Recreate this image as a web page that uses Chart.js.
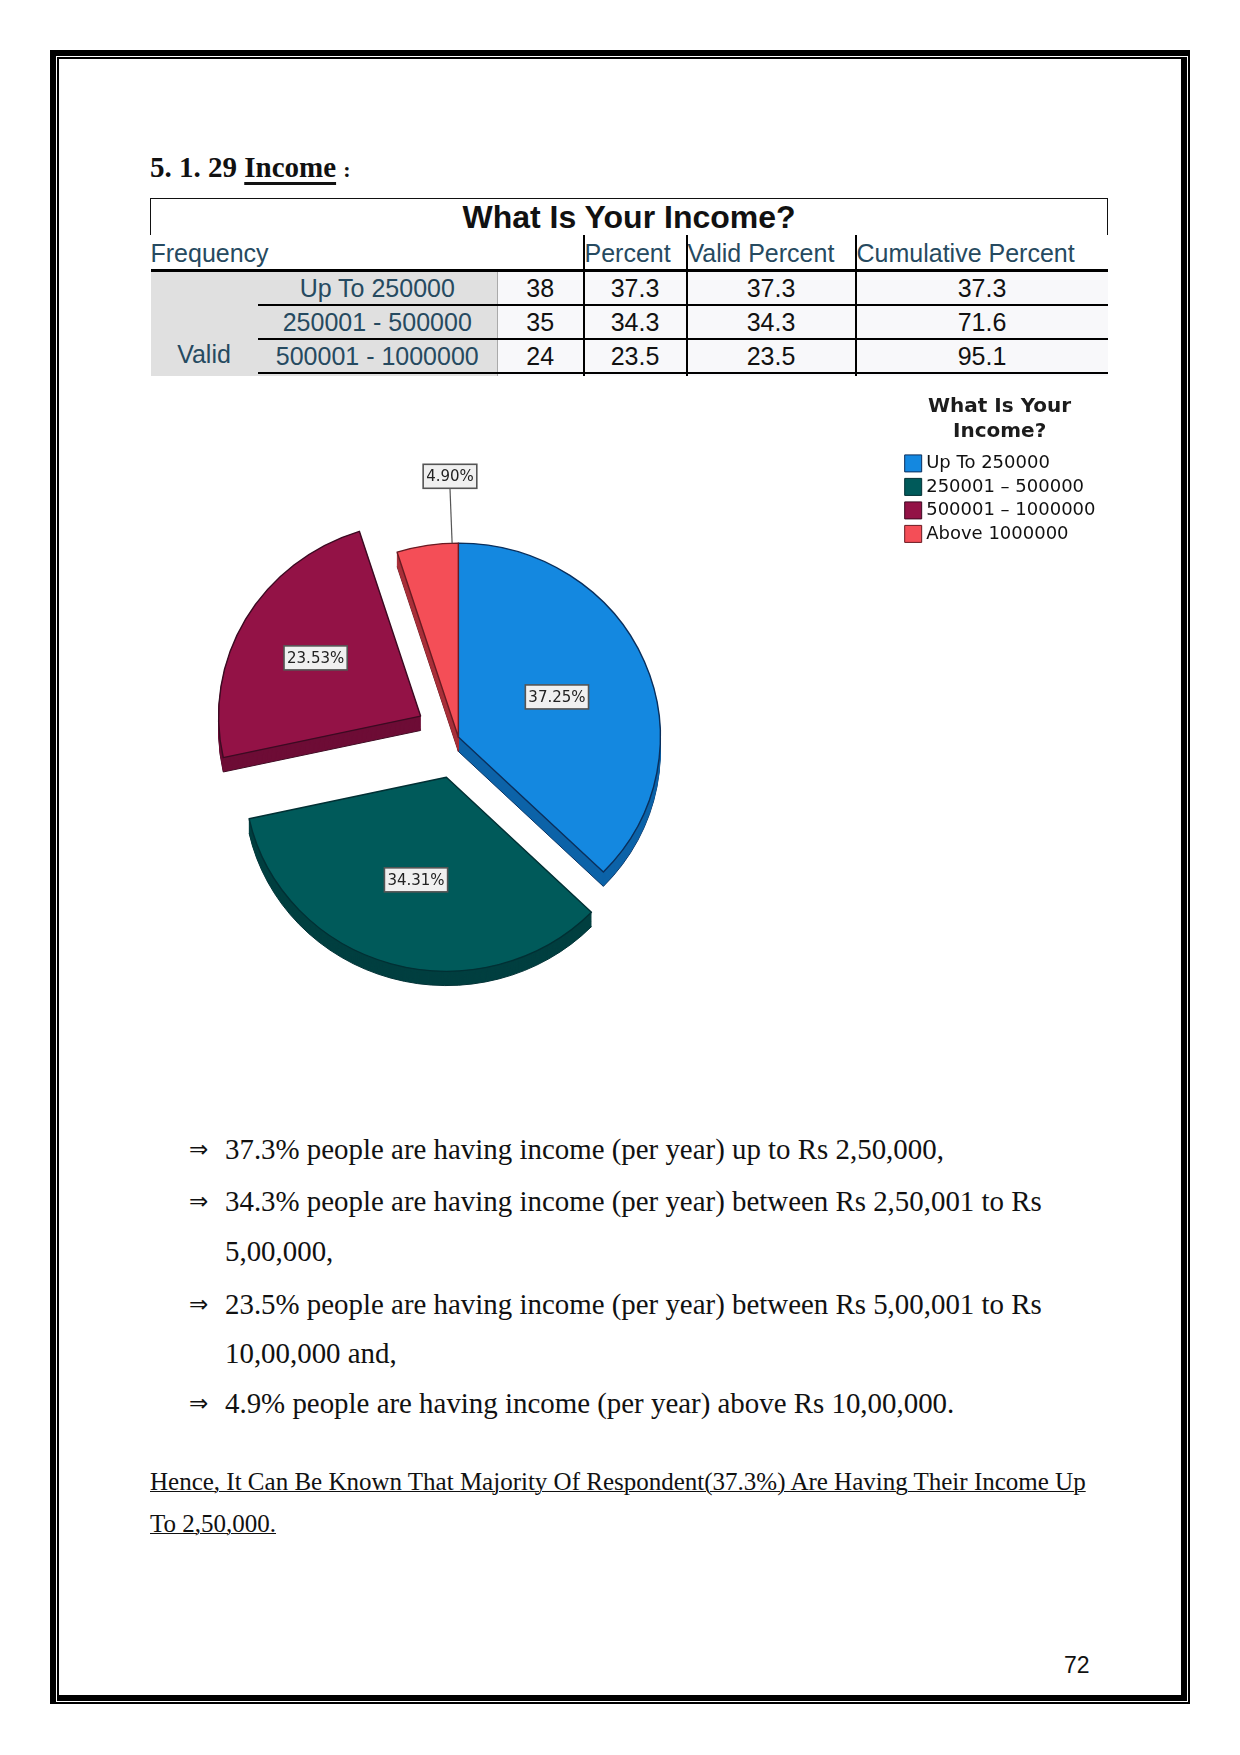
<!DOCTYPE html>
<html>
<head>
<meta charset="utf-8">
<title>Income</title>
<script src="https://cdn.jsdelivr.net/npm/chart.js@4"></script>
<style>
  html, body { margin: 0; padding: 0; background: #fff; }
  #page { position: relative; width: 1240px; height: 1755px; overflow: hidden; font-family: "Liberation Serif", serif; color: #111; }
  .frame { position: absolute; box-sizing: border-box; border-style: solid; border-color: #000; }
  #outer { left: 50px; top: 50px; width: 1140px; height: 1654px; border-width: 6px 2px 2px 6px; }
  #inner { left: 57px; top: 57px; width: 1130px; height: 1644px; border-width: 2px 6px 6px 2px; }
  .abs { position: absolute; white-space: nowrap; }

  #heading { left: 150px; top: 148px; font-size: 29px; font-weight: bold; line-height: 38px; }
  #heading u { text-decoration-thickness: 3px; text-underline-offset: 5px; }
  #heading span { font-size: 22px; }

  #tableBox { position: absolute; left: 150px; top: 198px; width: 959px; height: 178px; overflow: hidden; }
  table { border-collapse: collapse; table-layout: fixed; width: 957px; font-family: "Liberation Sans", sans-serif; font-size: 25px; color: #111; }
  td { padding: 0; text-align: center; overflow: hidden; white-space: nowrap; }
  .title td { height: 36px; line-height: 36px; font-size: 32px; font-weight: bold; border: 1px solid #111; border-bottom: 0; }
  .head td { height: 32px; text-align: left; color: #264a60; border-bottom: 3px solid #000; line-height: 30px; padding-top: 2px; }
  .head td.rule, .row td.rule { border-left: 2px solid #000; }
  .row td { height: 32px; line-height: 30px; background: #f8f8fa; border-bottom: 2px solid #000; }
  .row td.label { background: #e0e0e0; color: #264a60; border-right: 1px solid #aaa; }
  .row td.group { background: #e0e0e0; color: #264a60; border-bottom: 0; vertical-align: bottom; padding-bottom: 10px; }
  .stub td { height: 4px; line-height: 0; font-size: 0; }

  #chartBox { position: absolute; left: 0; top: 380px; }
  .note { font-size: 28.9px; line-height: 36px; }
  .arrow { font-family: "DejaVu Sans", sans-serif; font-size: 23px; line-height: 36px; }
  .end { font-size: 25px; line-height: 36px; text-decoration: underline; text-decoration-thickness: 1px; }
  #pageNo { left: 1064px; top: 1651px; font-family: "Liberation Sans", sans-serif; font-size: 23px; line-height: 28px; }
</style>
</head>
<body>
<div id="page">
  <div class="frame" id="outer"></div>
  <div class="frame" id="inner"></div>

  <div class="abs" id="heading">5. 1. 29 <u>Income</u> <span>:</span></div>

  <div id="tableBox"><table id="freq"></table></div>

  <div id="chartBox"><canvas id="incomeChart" width="1110" height="714"></canvas></div>

  <div id="notes"></div>
  <div class="abs" id="pageNo">72</div>
</div>

<script>
// -------------------------------------
// Data
// -------------------------------------
const tableTitle = "What Is Your Income?";
const tableHeaders = ["Frequency", "Percent", "Valid Percent", "Cumulative Percent"];
const groupLabel = "Valid";
const rowLabels = ["Up To 250000", "250001 - 500000", "500001 - 1000000"];
const frequency = [38, 35, 24];
const percent = ["37.3", "34.3", "23.5"];
const validPercent = ["37.3", "34.3", "23.5"];
const cumulativePercent = ["37.3", "71.6", "95.1"];

const legendTitle = ["What Is Your", "Income?"];
const categories = ["Up To 250000", "250001 – 500000", "500001 – 1000000", "Above 1000000"];
const shares = [37.25, 34.31, 23.53, 4.90];
const sliceLabels = ["37.25%", "34.31%", "23.53%", "4.90%"];

const sliceColors = ["#1488e0", "#005a5a", "#931246", "#f44e57"];
const wallColors = ["#0c63a8", "#003f40", "#6e0d36", "#a8303a"];
const edgeColors = ["#0a2f5c", "#003034", "#3c0a22", "#6a1a22"];

const bulletLines = [
  "37.3% people are having income (per year) up to Rs 2,50,000,",
  "34.3% people are having income (per year) between Rs 2,50,001 to Rs",
  "5,00,000,",
  "23.5% people are having income (per year) between Rs 5,00,001 to Rs",
  "10,00,000 and,",
  "4.9% people are having income (per year) above Rs 10,00,000."
];
const bulletTops = [1131, 1183, 1233, 1286, 1335, 1385];
const hasArrow = [true, true, false, true, false, true];
const closingLines = [
  "Hence, It Can Be Known That Majority Of Respondent(37.3%) Are Having Their Income Up",
  "To 2,50,000."
];
const closingTops = [1464, 1506];

// -------------------------------------
// Table
// -------------------------------------
function buildTable() {
  const colWidths = [107, 240, 86, 103, 169, 252];
  let html = "<colgroup>" + colWidths.map(w => `<col style="width:${w}px">`).join("") + "</colgroup>";
  html += `<tr class="title"><td colspan="6">${tableTitle}</td></tr>`;
  html += `<tr class="head"><td colspan="3">${tableHeaders[0]}</td>` +
    `<td class="rule">${tableHeaders[1]}</td><td class="rule">${tableHeaders[2]}</td><td class="rule">${tableHeaders[3]}</td></tr>`;
  rowLabels.forEach((label, i) => {
    html += '<tr class="row">';
    if (i === 0) html += `<td class="group" rowspan="4">${groupLabel}</td>`;
    html += `<td class="label">${label}</td><td>${frequency[i]}</td>` +
      `<td class="rule">${percent[i]}</td><td class="rule">${validPercent[i]}</td><td class="rule">${cumulativePercent[i]}</td></tr>`;
  });
  html += '<tr class="row stub"><td class="label"></td><td></td><td class="rule"></td><td class="rule"></td><td class="rule"></td></tr>';
  document.getElementById("freq").innerHTML = html;
}

// -------------------------------------
// Notes under the chart
// -------------------------------------
function buildNotes() {
  const box = document.getElementById("notes");
  let html = "";
  bulletLines.forEach((line, i) => {
    if (hasArrow[i]) html += `<div class="abs arrow" style="left:189px;top:${bulletTops[i]}px">⇒</div>`;
    html += `<div class="abs note" style="left:225px;top:${bulletTops[i]}px">${line}</div>`;
  });
  closingLines.forEach((line, i) => {
    html += `<div class="abs end" style="left:150px;top:${closingTops[i]}px">${line}</div>`;
  });
  box.innerHTML = html;
}

// -------------------------------------
// Tilted, exploded pie: the library lays out the arcs, this draws them
// -------------------------------------
const squash = 0.96;
const depth = 15;
const explode = [0, 43.6, 43.6, 0];
const labelRadius = [0.53, 0.55, 0.6, 1.345];
const labelAngle = [0.5, 0.5, 0.5, 0.9];

function arcOptions(fill, edge, width) {
  return {
    backgroundColor: fill, borderColor: edge, borderWidth: width, borderAlign: "center",
    borderJoinStyle: "round", borderDash: [], borderDashOffset: 0, offset: 0, spacing: 0,
    angle: undefined, circular: true, selfJoin: false
  };
}

function drawArcShifted(ctx, arc, i, drop, opts) {
  const mid = (arc.startAngle + arc.endAngle) / 2;
  const saved = arc.options;
  ctx.save();
  ctx.translate(arc.x, arc.y);
  ctx.scale(1, squash);
  ctx.translate(-arc.x, -arc.y);
  ctx.translate(Math.cos(mid) * explode[i], Math.sin(mid) * explode[i] + drop);
  arc.options = opts;
  arc.draw(ctx);
  arc.options = saved;
  ctx.restore();
}

const tiltedPie = {
  id: "tiltedPie",
  // pulls the legend title left of the swatches, as in the original
  afterLayout(chart) {
    chart.legend.width -= 10;
  },
  beforeDatasetDraw(chart, args) {
    const ctx = chart.ctx;
    const arcs = args.meta.data;

    arcs.forEach((arc, i) => {
      for (let d = depth; d > 0; d--) {
        drawArcShifted(ctx, arc, i, d, arcOptions(wallColors[i], d === depth ? edgeColors[i] : wallColors[i], d === depth ? 1 : 0.5));
      }
    });
    arcs.forEach((arc, i) => {
      drawArcShifted(ctx, arc, i, 0, arcOptions(sliceColors[i], edgeColors[i], 1.4));
    });

    ctx.save();
    ctx.font = '15px "DejaVu Sans"';
    ctx.textAlign = "center";
    ctx.textBaseline = "middle";
    arcs.forEach((arc, i) => {
      const mid = (arc.startAngle + arc.endAngle) / 2;
      const at = arc.startAngle + (arc.endAngle - arc.startAngle) * labelAngle[i];
      const r = arc.outerRadius * labelRadius[i];
      const x = arc.x + Math.cos(mid) * explode[i] + Math.cos(at) * r;
      const y = arc.y + (Math.sin(mid) * explode[i] + Math.sin(at) * r) * squash;
      const w = ctx.measureText(sliceLabels[i]).width + 6;
      const h = 24;
      if (labelRadius[i] > 1) {
        ctx.strokeStyle = "#555";
        ctx.lineWidth = 1.2;
        ctx.beginPath();
        ctx.moveTo(x, y + h / 2);
        ctx.lineTo(arc.x + Math.cos(at) * arc.outerRadius, arc.y + Math.sin(at) * arc.outerRadius * squash);
        ctx.stroke();
      }
      ctx.fillStyle = "#f0f0f0";
      ctx.fillRect(x - w / 2, y - h / 2, w, h);
      ctx.strokeStyle = "#555";
      ctx.lineWidth = 1.6;
      ctx.strokeRect(x - w / 2, y - h / 2, w, h);
      ctx.fillStyle = "#222";
      ctx.fillText(sliceLabels[i], x, y + 1);
    });
    ctx.restore();
    return false;
  }
};

function drawChart() {
  new Chart(document.getElementById("incomeChart"), {
    type: "pie",
    plugins: [tiltedPie],
    data: {
      labels: categories,
      datasets: [{
        data: shares,
        backgroundColor: sliceColors,
        borderColor: edgeColors,
        borderWidth: 1,
        pointStyle: "rect"
      }]
    },
    options: {
      responsive: false,
      animation: false,
      radius: 202,
      layout: { padding: { left: 13, top: 17, bottom: 17, right: 4.5 } },
      plugins: {
        tooltip: { enabled: false },
        legend: {
          position: "right",
          align: "start",
          title: {
            display: true,
            text: legendTitle,
            color: "#1c1c1c",
            position: "center",
            font: { family: "DejaVu Sans", size: 20, weight: "bold", lineHeight: 1.22 },
            padding: { top: 0, bottom: 27.5 }
          },
          labels: {
            color: "#111",
            usePointStyle: true,
            pointStyle: "rect",
            boxWidth: 8,
            boxHeight: 17,
            padding: 5.5,
            font: { family: "DejaVu Sans", size: 18, lineHeight: 1.15 }
          }
        }
      }
    }
  });
}

buildTable();
buildNotes();
drawChart();
</script>
</body>
</html>
